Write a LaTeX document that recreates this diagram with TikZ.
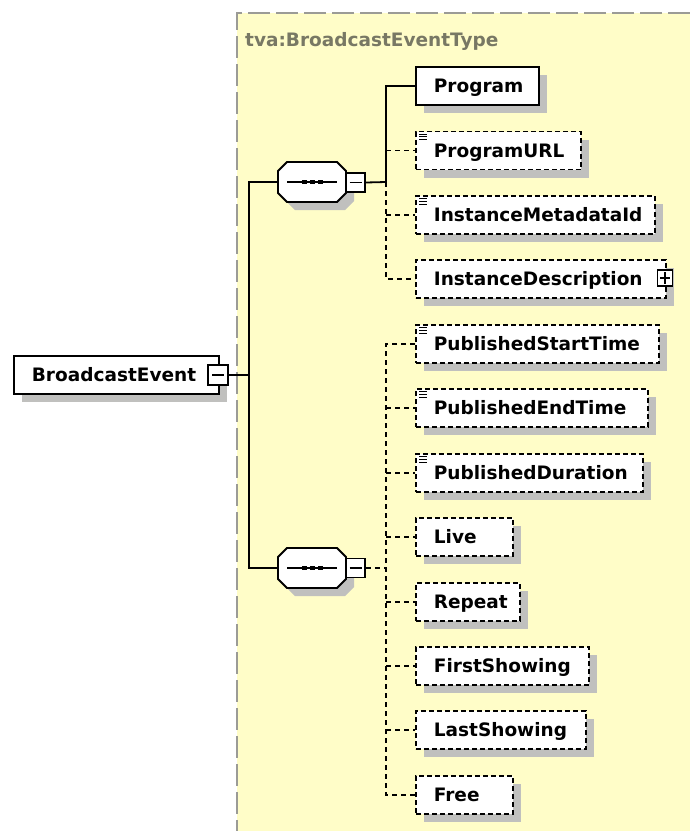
\documentclass[tikz,border=0pt]{standalone}
\usepackage{fontspec}
\setmainfont{DejaVu Sans}
\usetikzlibrary{shadows,calc}
\definecolor{bgyellow}{RGB}{255,253,200}
\definecolor{framegray}{RGB}{155,155,150}
\definecolor{titlegray}{RGB}{120,120,100}
\definecolor{shadowc}{RGB}{192,192,190}
\newcommand\elabel[2]{\makebox[#1][l]{#2}}
\newcommand\simplemark[1]{%
  \foreach \d in {3.5,6.2,8.9}{\draw[line width=0.9pt] ($(#1.north west)+(4,\d)$) -- ++(8,0);}}
\newcommand\seqsym[3]{%
  \begin{scope}[shift={(#2,#3)}]
    \fill[shadowc] ([shift={(8,8)}]-25,-20) -- ([shift={(8,8)}]25,-20) -- ([shift={(8,8)}]34,-11) -- ([shift={(8,8)}]34,11) -- ([shift={(8,8)}]25,20) -- ([shift={(8,8)}]-25,20) -- ([shift={(8,8)}]-34,11) -- ([shift={(8,8)}]-34,-11) -- cycle;
    \draw[fill=white, line width=1.8pt] (-25,-20) -- (25,-20) -- (34,-11) -- (34,11) -- (25,20) -- (-25,20) -- (-34,11) -- (-34,-11) -- cycle;
    \draw[line width=1.2pt] (-25,0) -- (25,0);
    \foreach \s in {-8,0,8}{\fill (\s-2.5,-2.2) rectangle (\s+2.5,2.2);}
    \node[draw=none, minimum width=68pt, minimum height=40pt, inner sep=0pt, outer sep=0pt] (#1) at (0,0) {};
  \end{scope}}
\tikzset{
  elem/.style={draw=black, fill=white, line width=1.8pt, anchor=west, minimum height=38pt,
    inner xsep=18pt, inner ysep=0pt, text height=13pt, text depth=0pt,
    font=\bfseries\fontsize{18.5}{20}\selectfont,
    drop shadow={shadow xshift=8pt, shadow yshift=-8pt, fill=shadowc, opacity=1}},
  optelem/.style={elem, dash pattern=on 5pt off 3pt},
  conn/.style={line width=1.8pt, black},
  optconn/.style={conn, dash pattern=on 5pt off 4pt},
  pmbox/.style={draw=black, fill=white, line width=1.5pt, minimum width=19pt, minimum height=19pt, inner sep=0pt},
  pmsign/.style={line width=1.2pt},
  frame/.style={framegray, line width=2pt, dash pattern=on 22pt off 6pt},
}
\begin{document}
\begin{tikzpicture}[x=1pt,y=-1pt]
\useasboundingbox (0,0) rectangle (690,831);
\fill[white] (0,0) rectangle (690,831);
\fill[bgyellow] (237,13) rectangle (690,831);
\draw[frame] (690,13) -- (237,13) -- (237,831);
\node[anchor=base west, text=titlegray, font=\bfseries\fontsize{18.5}{20}\selectfont, inner sep=0pt] (title) at (245,46) {tva:BroadcastEventType};

% root element
\node[elem] (be) at (13,375) {\elabel{169pt}{BroadcastEvent}};
\node[pmbox, minimum width=20pt, minimum height=20pt] (bem) at (218,375) {};
\draw[pmsign] (bem.center) +(-6,0) -- +(6,0);

% sequences
\seqsym{seq1}{312}{182}
\node[pmbox] (s1m) at (355.5,182.5) {};
\draw[pmsign] (s1m.center) +(-6,0) -- +(6,0);
\seqsym{seq2}{312}{568}
\node[pmbox] (s2m) at (355.5,568) {};
\draw[pmsign] (s2m.center) +(-6,0) -- +(6,0);

% children of first sequence
\node[elem] (prog) at (415,86) {\elabel{87pt}{Program}};
\node[optelem] (url) at (415,150.5) {\elabel{129pt}{ProgramURL}};
\node[optelem] (meta) at (415,215) {\elabel{203pt}{InstanceMetadataId}};
\node[optelem] (desc) at (415,279) {\elabel{214pt}{InstanceDescription}};
\node[pmbox, minimum width=15pt, minimum height=16pt] (dm) at (665,278) {};
\draw[pmsign] (dm.center) +(-5,0) -- +(5,0) (dm.center) +(0,-6) -- +(0,6);

% children of second sequence
\node[optelem] (pst) at (415,344) {\elabel{207pt}{PublishedStartTime}};
\node[optelem] (pet) at (415,408) {\elabel{196pt}{PublishedEndTime}};
\node[optelem] (pd) at (415,473) {\elabel{191pt}{PublishedDuration}};
\node[optelem] (live) at (415,537) {\elabel{61pt}{Live}};
\node[optelem] (rep) at (415,602) {\elabel{68pt}{Repeat}};
\node[optelem] (first) at (415,666) {\elabel{137pt}{FirstShowing}};
\node[optelem] (last) at (415,730) {\elabel{134pt}{LastShowing}};
\node[optelem] (free) at (415,795) {\elabel{61pt}{Free}};

\simplemark{url}
\simplemark{meta}
\simplemark{pst}
\simplemark{pet}
\simplemark{pd}

% trunk
\coordinate (tj) at (249,375);
\draw[conn] (bem.east) -- (tj);
\draw[conn] (seq1.west) -| (tj) |- (seq2.west);

% first sequence connectors
\coordinate (j1) at (386,182);
\draw[conn] (s1m.east) -- (j1);
\draw[conn] (j1) |- (prog.west);
\draw[optconn] (j1) |- (desc.west);
\draw[optconn] (j1 |- url.west) -- (url.west);
\draw[optconn] (j1 |- meta.west) -- (meta.west);

% second sequence connectors
\coordinate (j2) at (386,568);
\draw[optconn] (s2m.east) -- (j2);
\draw[optconn] (pst.west) -| (j2) |- (free.west);
\draw[optconn] (j2 |- pet.west) -- (pet.west);
\draw[optconn] (j2 |- pd.west) -- (pd.west);
\draw[optconn] (j2 |- live.west) -- (live.west);
\draw[optconn] (j2 |- rep.west) -- (rep.west);
\draw[optconn] (j2 |- first.west) -- (first.west);
\draw[optconn] (j2 |- last.west) -- (last.west);
\end{tikzpicture}
\end{document}
